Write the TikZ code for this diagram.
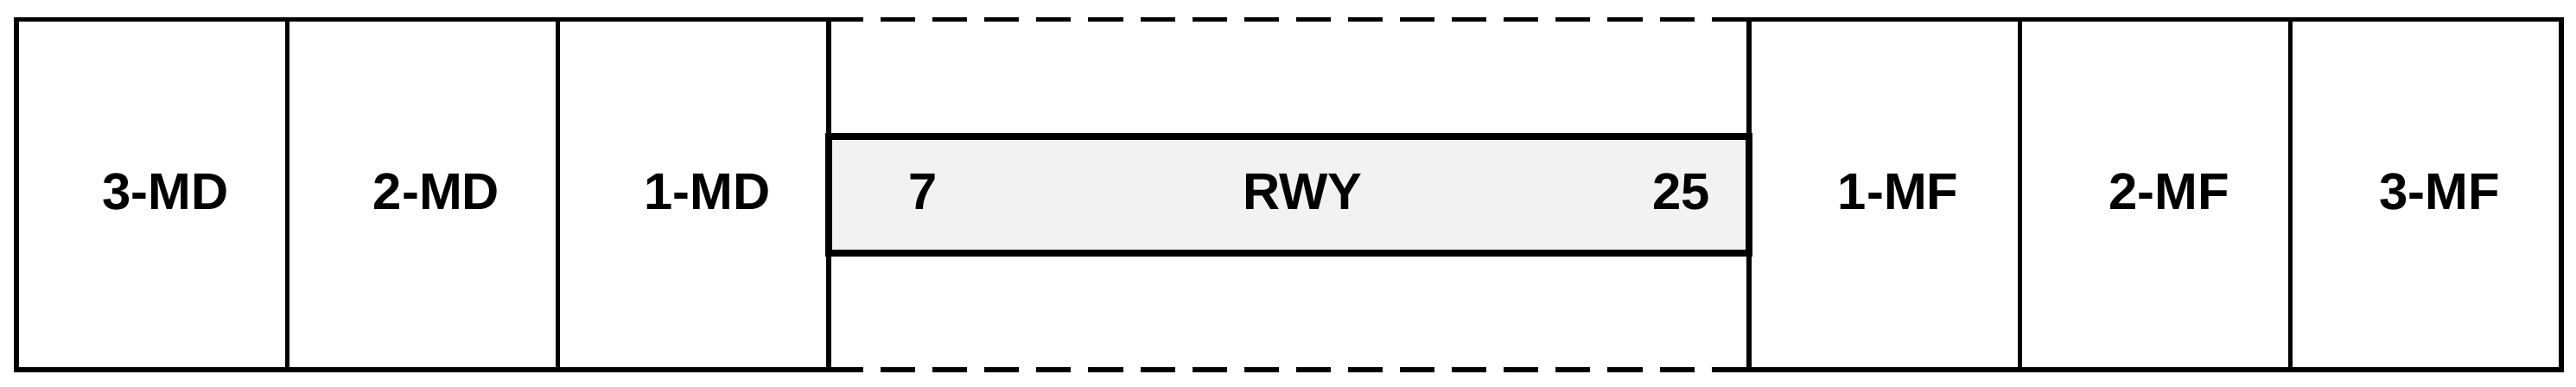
\documentclass[tikz,border=0pt]{standalone}
\usepackage{fontspec}
\setmainfont{Liberation Sans}
\usepackage{tikz}
\usetikzlibrary{positioning}
\definecolor{rwygray}{HTML}{F2F2F2}
\tikzset{
    zone/.style={draw, line width=1.5pt, minimum width=3.133cm, minimum height=4.053cm, inner sep=0pt, outer sep=0pt},
    runway/.style={draw, fill=rwygray, line width=2.4pt, minimum width=10.65cm, minimum height=1.35cm, inner sep=0pt, outer sep=0pt},
    zonelabel/.style={font=\fontsize{17}{20}\selectfont\bfseries, inner sep=0pt},
    openedge/.style={line width=1.6pt, dash pattern=on 11.4pt off 5.7pt},
}

\begin{document}
\begin{tikzpicture}
    \useasboundingbox (0,0) rectangle (29.81,4.48);

    \node[zone] (md3) at (1.757,2.227) {};
    \node[zone, right=0pt of md3] (md2) {};
    \node[zone, right=0pt of md2] (md1) {};
    \node[runway, right=0pt of md1] (rwy) {};
    \node[zone, right=0pt of rwy] (mf1) {};
    \node[zone, right=0pt of mf1] (mf2) {};
    \node[zone, right=0pt of mf2] (mf3) {};

    \draw[openedge] (md1.north east) -- (mf1.north west);
    \draw[openedge] (md1.south east) -- (mf1.south west);

    \node[zonelabel] (lmd3) at ([xshift=1.6mm, yshift=0.35mm]md3.center) {3-MD};
    \node[zonelabel] (lmd2) at ([xshift=1.6mm, yshift=0.35mm]md2.center) {2-MD};
    \node[zonelabel] (lmd1) at ([xshift=1.6mm, yshift=0.35mm]md1.center) {1-MD};
    \node[zonelabel] (lmf1) at ([xshift=1.6mm, yshift=0.35mm]mf1.center) {1-MF};
    \node[zonelabel] (lmf2) at ([xshift=1.6mm, yshift=0.35mm]mf2.center) {2-MF};
    \node[zonelabel] (lmf3) at ([xshift=1.6mm, yshift=0.35mm]mf3.center) {3-MF};

    \node[zonelabel] (thr7) at ([xshift=1.09cm, yshift=0.35mm]rwy.west) {7};
    \node[zonelabel] (lrwy) at ([xshift=1.6mm, yshift=0.35mm]rwy.center) {RWY};
    \node[zonelabel] (thr25) at ([xshift=-0.78cm, yshift=0.35mm]rwy.east) {25};
\end{tikzpicture}
\end{document}
